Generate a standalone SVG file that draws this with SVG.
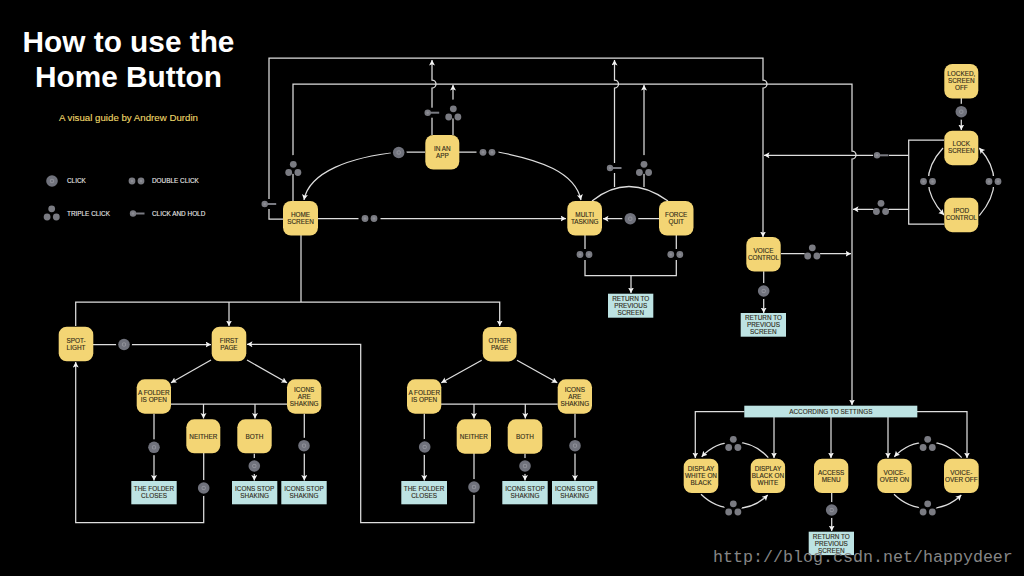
<svg xmlns="http://www.w3.org/2000/svg" width="1024" height="576" viewBox="0 0 1024 576">
<style>
text{font-family:"Liberation Sans",Arial,sans-serif}
.c{fill:none;stroke:#dedede;stroke-width:1.25}
.a{marker-end:url(#ah)}
.n{fill:#f3d574}
.b{fill:#bde3e3}
.t{font-size:6.4px;fill:#2f2a18;stroke:#2f2a18;stroke-width:.12;text-anchor:middle}
.l{font-size:6.4px;fill:#ececec;stroke:#ececec;stroke-width:.1}
.ti{font-size:29.8px;font-weight:bold;fill:#fff;text-anchor:middle}
.sub{font-size:9.7px;fill:#eed96a;stroke:#eed96a;stroke-width:.12}
.wm{font-family:"Liberation Mono",monospace;font-size:16.67px;fill:#858585}
</style>
<defs>
<marker id="ah" markerUnits="userSpaceOnUse" markerWidth="7" markerHeight="7" refX="5.500" refY="3" orient="auto"><path d="M0,0L5.500,3L0,6L1.200,3Z" fill="#f4f4f4"/></marker>
<g id="click"><circle r="8" fill="#000"/><circle r="5.800" fill="#70727c"/><rect x="-1.600" y="-1.600" width="3.200" height="3.200" rx=".8" fill="none" stroke="#a8a9b0" stroke-width=".6"/></g>
<g id="dbl"><rect x="-6.500" y="-5.500" width="22" height="11" fill="#000"/><circle r="3.400" fill="#7a7b82"/><circle cx="9" r="3.400" fill="#7a7b82"/><circle r="1.200" fill="#8d8e95"/><circle cx="9" r="1.200" fill="#8d8e95"/></g>
<g id="tri"><circle cy="-4" r="9.500" fill="#000"/><circle cy="-4.200" r="3.400" fill="#7a7b82"/><circle cx="-4.600" cy="4" r="3.400" fill="#7a7b82"/><circle cx="4.600" cy="4" r="3.400" fill="#7a7b82"/></g>
<g id="hold"><rect x="-4" y="-5" width="16" height="10" fill="#000"/><rect x="0" y="-1" width="11.500" height="2" fill="#7a7b82"/><circle r="3.200" fill="#7a7b82"/><circle r="1.200" fill="#8d8e95"/></g>
</defs>
<rect width="1024" height="576" fill="#000"/>
<g id="title">
<text class="ti" x="128.500" y="51.700">How to use the</text>
<text class="ti" x="128.500" y="87.300">Home Button</text>
<text class="sub" x="59" y="120.500">A visual guide by Andrew Durdin</text>
</g>
<g id="legend">
<use href="#click" x="52" y="181"/><text class="l" x="67" y="183.300">CLICK</text>
<use href="#dbl" x="132" y="181"/><text class="l" x="152" y="183.300">DOUBLE CLICK</text>
<use href="#tri" x="51.700" y="213"/><text class="l" x="67" y="215.800">TRIPLE CLICK</text>
<use href="#hold" x="133" y="213.500"/><text class="l" x="152" y="215.800">CLICK AND HOLD</text>
</g>
<g id="connectors">
<path class="c a" d="M283,219H269V58H763V80A4,4 0 0 1 763,88V237"/>
<path class="c a" d="M293,201V84H852V151A4,4 0 0 1 852,159V405"/>
<path class="c a" d="M432,135V88A4,4 0 0 0 432,80V60"/>
<path class="c a" d="M453,135V85"/>
<path class="c a" d="M425,152H399C350,157 309,172 304,200"/>
<path class="c a" d="M459,152H498C540,160 575,172 581,200"/>
<path class="c a" d="M318,218.500H566"/>
<path class="c" d="M592,201Q628,172 668,201"/>
<path class="c a" d="M614.500,187V88A4,4 0 0 0 614.500,80V60"/>
<path class="c a" d="M644,187V85"/>
<path class="c a" d="M659,218.700H603"/>
<path class="c" d="M585,235V275.500H676.300V235"/>
<path class="c a" d="M631,275.500V293"/>
<path class="c" d="M301,235V302"/>
<path class="c a" d="M75.700,326V302H499.700V326"/>
<path class="c a" d="M229,302V326"/>
<path class="c a" d="M93,344.500H211"/>
<path class="c a" d="M203.700,453V522.700H75.700V362"/>
<path class="c a" d="M474,453V522.700H360.700V344.300H247"/>
<path class="c a" d="M211,360L171,382.700"/>
<path class="c a" d="M247,360L287,382.700"/>
<path class="c" d="M171,404H287"/>
<path class="c a" d="M203.500,404V418.500"/>
<path class="c a" d="M255,404V418.500"/>
<path class="c a" d="M154,413.700V480.500"/>
<path class="c a" d="M304.300,413.700V480.500"/>
<path class="c a" d="M254.300,453.700V480.500"/>
<path class="c a" d="M481.700,360.300L441.300,382.700"/>
<path class="c a" d="M517,360.300L557.300,382.700"/>
<path class="c" d="M441,404H557.700"/>
<path class="c a" d="M474,404V418.500"/>
<path class="c a" d="M525.300,404V418.500"/>
<path class="c a" d="M424.300,413.700V480.500"/>
<path class="c a" d="M575,413.700V480.500"/>
<path class="c a" d="M525,453.700V480.500"/>
<path class="c a" d="M961.300,98V130"/>
<path class="c" d="M944,140H908.700V224H944"/>
<path class="c a" d="M908.700,155.300H764"/>
<path class="c a" d="M908.700,209.300H853"/>
<path class="c a" d="M943,148Q913,181 944,215"/>
<path class="c a" d="M979.300,215.700Q1008.700,181 979.300,148"/>
<path class="c a" d="M781,253.700H851"/>
<path class="c a" d="M763.700,271.300V313"/>
<path class="c a" d="M744.500,411.700H695.300V458"/>
<path class="c a" d="M917,411.700H967V458"/>
<path class="c a" d="M774,417V458"/>
<path class="c a" d="M831,417V458"/>
<path class="c a" d="M888,417V458"/>
<path class="c a" d="M831.700,493V531"/>
<path class="c a" d="M768.300,457.700C750,437 720,437 701.700,456.700"/>
<path class="c a" d="M701,494.300C720,513 750,513 767.700,495"/>
<path class="c a" d="M961.700,457.700C943,437 913,437 894.300,456.700"/>
<path class="c a" d="M894,494.300C913,513 943,513 961.300,495"/>
</g>
<g id="button-icons">
<use href="#hold" x="427.700" y="112.700"/><use href="#tri" x="453.300" y="113"/>
<use href="#click" x="398.700" y="152.500"/><use href="#dbl" x="483" y="152.300"/>
<use href="#tri" x="293.300" y="168.500"/><use href="#hold" x="264.700" y="204"/>
<use href="#dbl" x="365" y="218.500"/>
<use href="#hold" x="610" y="168"/><use href="#tri" x="644" y="168.500"/>
<use href="#click" x="630.300" y="218.700"/>
<use href="#dbl" x="580" y="254.500"/><use href="#dbl" x="670.800" y="254.500"/>
<use href="#click" x="124" y="344.500"/>
<use href="#click" x="154" y="447.300"/><use href="#click" x="304" y="445.700"/><use href="#click" x="254.300" y="466"/><use href="#click" x="203.700" y="488"/>
<use href="#click" x="424.700" y="447"/><use href="#click" x="575" y="445.700"/><use href="#click" x="525" y="466"/><use href="#click" x="474" y="487"/>
<use href="#click" x="961.300" y="111.700"/>
<use href="#hold" x="877" y="155.300"/><use href="#tri" x="881" y="207.500"/>
<use href="#dbl" x="923.500" y="181.500"/><use href="#dbl" x="989" y="181.500"/>
<use href="#tri" x="812.300" y="252"/><use href="#click" x="763.700" y="291"/>
<use href="#click" x="831.700" y="510"/>
<use href="#tri" x="733.300" y="443.500"/><use href="#tri" x="733.300" y="508"/><use href="#tri" x="927.700" y="443.500"/><use href="#tri" x="927.700" y="508"/>
</g>
<g id="home-screen"><rect class="n" x="283" y="201" width="35" height="34.500" rx="8"/><text class="t" x="300.500" y="216.700">HOME</text><text class="t" x="300.500" y="223.700">SCREEN</text></g>
<g id="in-an-app"><rect class="n" x="425.300" y="135" width="34" height="34.500" rx="8"/><text class="t" x="442.300" y="150.800">IN AN</text><text class="t" x="442.300" y="157.800">APP</text></g>
<g id="multi-tasking"><rect class="n" x="567.300" y="201" width="34.700" height="34.500" rx="8"/><text class="t" x="584.700" y="216.700">MULTI</text><text class="t" x="584.700" y="223.700">TASKING</text></g>
<g id="force-quit"><rect class="n" x="659" y="201" width="34.500" height="34.500" rx="8"/><text class="t" x="676.200" y="216.700">FORCE</text><text class="t" x="676.200" y="223.700">QUIT</text></g>
<g id="locked"><rect class="n" x="944.300" y="64" width="34" height="34.500" rx="8"/><text class="t" x="961.300" y="76.200">LOCKED,</text><text class="t" x="961.300" y="83.200">SCREEN</text><text class="t" x="961.300" y="90.200">OFF</text></g>
<g id="lock-screen"><rect class="n" x="944.300" y="130.700" width="34" height="34.500" rx="8"/><text class="t" x="961.300" y="146.400">LOCK</text><text class="t" x="961.300" y="153.400">SCREEN</text></g>
<g id="ipod-control"><rect class="n" x="944.300" y="197.700" width="34" height="34.500" rx="8"/><text class="t" x="961.300" y="213.200">IPOD</text><text class="t" x="961.300" y="220.200">CONTROL</text></g>
<g id="voice-control"><rect class="n" x="746.300" y="237" width="34.400" height="34.500" rx="8"/><text class="t" x="763.500" y="252.800">VOICE</text><text class="t" x="763.500" y="259.800">CONTROL</text></g>
<g id="return-voice"><rect class="b" x="740.700" y="313" width="45.300" height="23.700"/><text class="t" x="763.400" y="320">RETURN TO</text><text class="t" x="763.400" y="327">PREVIOUS</text><text class="t" x="763.400" y="334">SCREEN</text></g>
<g id="return-multi"><rect class="b" x="608" y="293.700" width="45.300" height="24"/><text class="t" x="630.700" y="300.700">RETURN TO</text><text class="t" x="630.700" y="307.700">PREVIOUS</text><text class="t" x="630.700" y="314.700">SCREEN</text></g>
<g id="spotlight"><rect class="n" x="58.700" y="326.700" width="34.600" height="34.600" rx="8"/><text class="t" x="76" y="342.700">SPOT-</text><text class="t" x="76" y="349.700">LIGHT</text></g>
<g id="first-page"><rect class="n" x="211.700" y="326.700" width="34.600" height="34.600" rx="8"/><text class="t" x="229" y="342.700">FIRST</text><text class="t" x="229" y="349.700">PAGE</text></g>
<g id="folder-1"><rect class="n" x="136.700" y="379.300" width="34.300" height="34.400" rx="8"/><text class="t" x="153.800" y="395.200">A FOLDER</text><text class="t" x="153.800" y="402.200">IS OPEN</text></g>
<g id="icons-1"><rect class="n" x="287" y="379.300" width="34.300" height="34.400" rx="8"/><text class="t" x="304.200" y="391.800">ICONS</text><text class="t" x="304.200" y="398.800">ARE</text><text class="t" x="304.200" y="405.800">SHAKING</text></g>
<g id="neither-1"><rect class="n" x="186.300" y="419.300" width="34" height="34" rx="8"/><text class="t" x="203.300" y="438.600">NEITHER</text></g>
<g id="both-1"><rect class="n" x="237.300" y="419.300" width="34.400" height="34" rx="8"/><text class="t" x="254.500" y="438.600">BOTH</text></g>
<g id="closes-1"><rect class="b" x="131.300" y="481" width="45.400" height="23.300"/><text class="t" x="154" y="491.100">THE FOLDER</text><text class="t" x="154" y="498.100">CLOSES</text></g>
<g id="stop-1a"><rect class="b" x="232" y="481" width="45.300" height="23.300"/><text class="t" x="254.700" y="491.100">ICONS STOP</text><text class="t" x="254.700" y="498.100">SHAKING</text></g>
<g id="stop-1b"><rect class="b" x="281.300" y="481" width="45.400" height="23.300"/><text class="t" x="304" y="491.100">ICONS STOP</text><text class="t" x="304" y="498.100">SHAKING</text></g>
<g id="other-page"><rect class="n" x="482.700" y="327" width="34" height="34.400" rx="8"/><text class="t" x="499.700" y="342.700">OTHER</text><text class="t" x="499.700" y="349.700">PAGE</text></g>
<g id="folder-2"><rect class="n" x="407" y="379.300" width="34.300" height="34.400" rx="8"/><text class="t" x="424.200" y="395.200">A FOLDER</text><text class="t" x="424.200" y="402.200">IS OPEN</text></g>
<g id="icons-2"><rect class="n" x="557.700" y="379.300" width="34.300" height="34.400" rx="8"/><text class="t" x="574.800" y="391.800">ICONS</text><text class="t" x="574.800" y="398.800">ARE</text><text class="t" x="574.800" y="405.800">SHAKING</text></g>
<g id="neither-2"><rect class="n" x="456.700" y="419.300" width="34.300" height="34.400" rx="8"/><text class="t" x="473.800" y="438.800">NEITHER</text></g>
<g id="both-2"><rect class="n" x="507.700" y="419.300" width="34.600" height="34.400" rx="8"/><text class="t" x="525" y="438.800">BOTH</text></g>
<g id="closes-2"><rect class="b" x="401.300" y="481" width="45.700" height="23.300"/><text class="t" x="424.100" y="491.100">THE FOLDER</text><text class="t" x="424.100" y="498.100">CLOSES</text></g>
<g id="stop-2a"><rect class="b" x="502.300" y="481" width="45.400" height="23.300"/><text class="t" x="525" y="491.100">ICONS STOP</text><text class="t" x="525" y="498.100">SHAKING</text></g>
<g id="stop-2b"><rect class="b" x="552" y="481" width="45.300" height="23.300"/><text class="t" x="574.700" y="491.100">ICONS STOP</text><text class="t" x="574.700" y="498.100">SHAKING</text></g>
<g id="according"><rect class="b" x="744.300" y="405.700" width="173" height="11.700"/><text class="t" x="830.800" y="413.700">ACCORDING TO SETTINGS</text></g>
<g id="display-wob"><rect class="n" x="683.700" y="458.700" width="34.600" height="34.400" rx="8"/><text class="t" x="701" y="470.900">DISPLAY</text><text class="t" x="701" y="477.900">WHITE ON</text><text class="t" x="701" y="484.900">BLACK</text></g>
<g id="display-bow"><rect class="n" x="750.700" y="458.700" width="34.400" height="34.400" rx="8"/><text class="t" x="767.900" y="470.900">DISPLAY</text><text class="t" x="767.900" y="477.900">BLACK ON</text><text class="t" x="767.900" y="484.900">WHITE</text></g>
<g id="access-menu"><rect class="n" x="814" y="458.700" width="34.300" height="34.400" rx="8"/><text class="t" x="831.200" y="474.700">ACCESS</text><text class="t" x="831.200" y="481.700">MENU</text></g>
<g id="voiceover-on"><rect class="n" x="877.300" y="458.700" width="34.400" height="34.400" rx="8"/><text class="t" x="894.500" y="474.700">VOICE-</text><text class="t" x="894.500" y="481.700">OVER ON</text></g>
<g id="voiceover-off"><rect class="n" x="944" y="458.700" width="34.700" height="34.400" rx="8"/><text class="t" x="961.300" y="474.700">VOICE-</text><text class="t" x="961.300" y="481.700">OVER OFF</text></g>
<g id="return-access"><rect class="b" x="808.700" y="531.700" width="45.300" height="23.400"/><text class="t" x="831.300" y="538.700">RETURN TO</text><text class="t" x="831.300" y="545.700">PREVIOUS</text><text class="t" x="831.300" y="552.700">SCREEN</text></g>
<text class="wm" x="713" y="562">http://blog.csdn.net/happydeer</text>
</svg>
